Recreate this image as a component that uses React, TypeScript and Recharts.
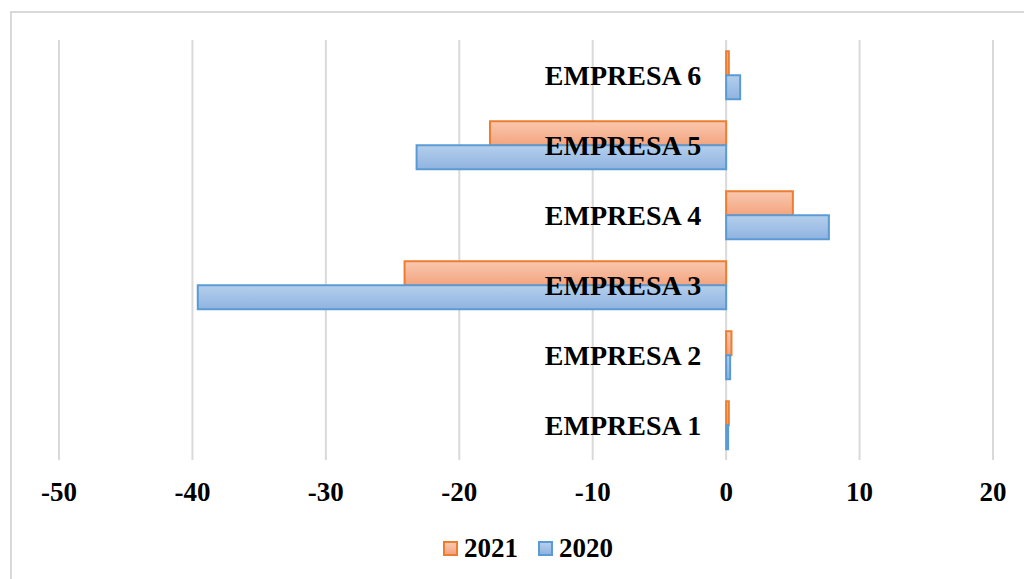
import React from "react";
import { BarChart, Bar, XAxis, YAxis, CartesianGrid, ReferenceDot } from "recharts";

const categories = ["EMPRESA 1", "EMPRESA 2", "EMPRESA 3", "EMPRESA 4", "EMPRESA 5", "EMPRESA 6"];
const values2021 = [0.2, 0.4, -24.1, 5.0, -17.7, 0.2];
const values2020 = [0.15, 0.3, -39.6, 7.7, -23.2, 1.05];
const xTicks = [-50, -40, -30, -20, -10, 0, 10, 20];

const series = [
  { key: "2021", label: "2021", stroke: "#ed7d31", top: "#f9c8b0", bottom: "#f3a47f" },
  { key: "2020", label: "2020", stroke: "#5b9bd5", top: "#b5cfec", bottom: "#8fb3e0" },
];

const data = categories.map((name, i) => ({
  name,
  "2021": values2021[i],
  "2020": values2020[i],
}));

const FONT = "'Liberation Serif', 'Times New Roman', serif";

export default function App() {
  return (
    <div
      style={{
        position: "absolute",
        left: 0,
        top: 0,
        width: 1024,
        height: 579,
        overflow: "hidden",
        background: "#fff",
        fontFamily: FONT,
      }}
    >
      {/* chart frame, runs off the right and bottom edges */}
      <div
        style={{
          position: "absolute",
          left: 10,
          top: 11,
          width: 1100,
          height: 700,
          border: "2px solid #d9d9d9",
        }}
      />
      <div style={{ position: "absolute", left: 0, top: 0 }}>
        <BarChart
          width={1024}
          height={579}
          data={data}
          layout="vertical"
          margin={{ top: 40, right: 31, left: 59, bottom: 59 }}
          barCategoryGap="16%"
          barGap={0}
        >
          <defs>
            {series.map((s) => (
              <linearGradient key={s.key} id={`grad-${s.key}`} x1="0" y1="0" x2="0" y2="1">
                <stop offset="0%" stopColor={s.top} />
                <stop offset="100%" stopColor={s.bottom} />
              </linearGradient>
            ))}
          </defs>
          <CartesianGrid horizontal={false} stroke="#d9d9d9" strokeWidth={2} />
          <XAxis
            type="number"
            domain={[-50, 20]}
            ticks={xTicks}
            axisLine={false}
            tickLine={false}
            tickMargin={16}
            height={60}
            tick={{ fill: "#000", fontSize: 27, fontWeight: "bold", fontFamily: FONT }}
          />
          <YAxis type="category" dataKey="name" reversed hide width={0} />
          {series.map((s) => (
            <Bar
              key={s.key}
              dataKey={s.key}
              fill={`url(#grad-${s.key})`}
              stroke={s.stroke}
              strokeWidth={2}
              isAnimationActive={false}
            />
          ))}
          {categories.map((c) => (
            <ReferenceDot
              key={c}
              x={0}
              y={c}
              r={1}
              fill="none"
              stroke="none"
              label={{
                value: c,
                position: "left",
                offset: 24,
                fill: "#000",
                fontSize: 28,
                fontWeight: "bold",
                fontFamily: FONT,
              }}
            />
          ))}
        </BarChart>
      </div>
      {/* legend */}
      <div
        style={{
          position: "absolute",
          left: 0,
          top: 531,
          width: 1056,
          display: "flex",
          justifyContent: "center",
          alignItems: "center",
          gap: 20,
        }}
      >
        {series.map((s) => (
          <div key={s.key} style={{ display: "flex", alignItems: "center", gap: 6 }}>
            <span
              style={{
                width: 11,
                height: 11,
                border: `2px solid ${s.stroke}`,
                background: `linear-gradient(${s.top}, ${s.bottom})`,
              }}
            />
            <span style={{ fontSize: 27, fontWeight: "bold", color: "#000", lineHeight: "34px" }}>
              {s.label}
            </span>
          </div>
        ))}
      </div>
    </div>
  );
}
